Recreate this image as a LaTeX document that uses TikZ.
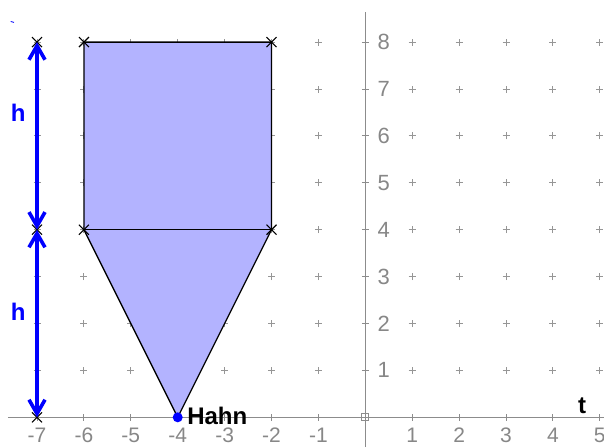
\documentclass[tikz,border=0pt]{standalone}
\usepackage{fontspec}
\setmainfont{Liberation Sans}
\usetikzlibrary{arrows.meta}
\definecolor{fillc}{RGB}{179,179,255}
\definecolor{axisc}{RGB}{140,140,140}
\definecolor{gridc}{RGB}{150,150,150}
\definecolor{labc}{RGB}{135,135,135}
\definecolor{hblue}{RGB}{0,0,255}
\tikzset{
  gridplus/.style={draw=gridc,line width=0.9pt},
  axisline/.style={draw=axisc,line width=1.2pt},
  xlab/.style={text=labc,font=\fontsize{21}{23}\selectfont,inner sep=0pt},
  ylab/.style={text=labc,font=\fontsize{22}{24}\selectfont,inner sep=0pt,anchor=west},
  shapeline/.style={draw=black,line width=1.3pt},
  crossmark/.style={draw=black,line width=1.1pt},
  harrow/.style={draw=hblue,line width=4.2pt,{Straight Barb[length=14pt,width=16pt,line width=3.6pt]}-{Straight Barb[length=14pt,width=16pt,line width=3.6pt]}},
  hlab/.style={text=hblue,font=\fontsize{24}{26}\selectfont\bfseries,inner sep=0pt},
  blab/.style={text=black,font=\fontsize{24}{26}\selectfont\bfseries,inner sep=0pt}
}
\begin{document}
\begin{tikzpicture}[x=46.9pt,y=46.9pt]
\useasboundingbox (-7.789,-0.633) rectangle (5.089,8.898);
% grid pluses
\foreach \x in {-7,...,-1,1,2,3,4,5}{
  \foreach \y in {1,...,8}{
    \draw[gridplus] (\x,\y) +(-3.5pt,0) -- +(3.5pt,0) +(0,-3.5pt) -- +(0,3.5pt);
  }
}
% axes
\coordinate (xl) at (-7.62,0);
\coordinate (xr) at (5.09,0);
\coordinate (yb) at (0,-0.633);
\coordinate (yt) at (0,8.64);
\draw[axisline] (xl) -- (xr);
\draw[axisline] (yb) -- (yt);
\foreach \x in {-7,...,-1,1,2,3,4,5}{
  \draw[axisline,line width=0.9pt] (\x,0) +(0,-3.5pt) -- +(0,3.5pt);
  \node[xlab] at (\x,-0.38) {\x};
}
\foreach \y in {1,...,8}{
  \draw[axisline,line width=0.9pt] (0,\y) +(-3.5pt,0) -- +(3.5pt,0);
  \node[ylab] at (0.26,\y) {\y};
}
\node[draw=axisc,line width=0.8pt,minimum size=7pt,inner sep=0pt] (O) at (0,0) {};
% shape
\coordinate (A) at (-6,8);
\coordinate (B) at (-2,8);
\coordinate (C) at (-2,4);
\coordinate (D) at (-4,0);
\coordinate (E) at (-6,4);
\fill[fillc] (A) -- (B) -- (C) -- (D) -- (E) -- cycle;
\draw[shapeline] (A) -- (B) -- (C) -- (D) -- (E) -- cycle;
\draw[shapeline] (E) -- (C);
% marker points
\coordinate (P8) at (-7,8);
\coordinate (P4) at (-7,4);
\coordinate (P0) at (-7,0);
\foreach \p in {A,B,C,E,P8,P4,P0}{
  \draw[crossmark] (\p) +(-5pt,-5pt) -- +(5pt,5pt) +(-5pt,5pt) -- +(5pt,-5pt);
}
% h arrows
\draw[harrow] (P4) -- (P8);
\draw[harrow] (P0) -- (P4);
\node[hlab] (h1) at (-7.4,6.5) {h};
\node[hlab] (h2) at (-7.4,2.25) {h};
% Hahn point
\fill[hblue] (D) circle (5pt);
\node[blab,anchor=west] (hahn) at (-3.8,0.03) {Hahn};
\node[blab] (t) at (4.62,0.24) {t};
% tiny blue dash
\draw[hblue,line width=0.8pt] (-7.56,8.44) -- (-7.49,8.42);
\end{tikzpicture}
\end{document}
